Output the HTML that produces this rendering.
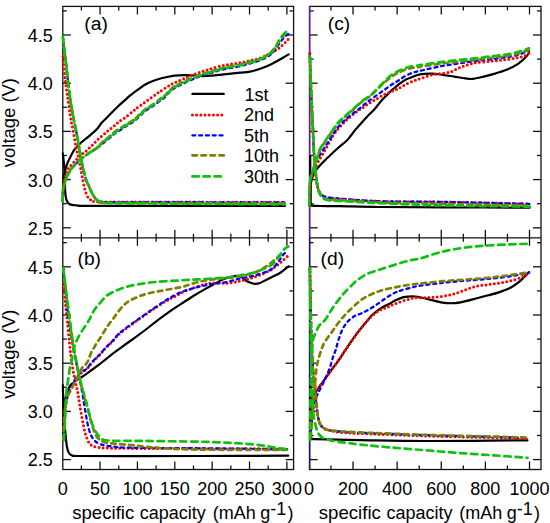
<!DOCTYPE html><html><head><meta charset="utf-8"><style>html,body{margin:0;padding:0;background:#fff;overflow:hidden;}svg{display:block;} text{font-family:"Liberation Sans",sans-serif;fill:#000;}</style></head><body>
<svg width="550" height="523" viewBox="0 0 550 523">
<rect width="550" height="523" fill="#fff"/>
<defs>
<clipPath id="cpa"><rect x="61.3" y="6.4" width="232.3" height="231.4"/></clipPath>
<clipPath id="cpb"><rect x="61.3" y="237.8" width="232.3" height="231.7"/></clipPath>
<clipPath id="cpc"><rect x="308.1" y="6.4" width="232.89999999999998" height="231.4"/></clipPath>
<clipPath id="cpd"><rect x="308.1" y="237.8" width="232.89999999999998" height="231.7"/></clipPath>
</defs>
<line x1="81.38" y1="6.40" x2="81.38" y2="10.40" stroke="#111" stroke-width="1.3"/>
<line x1="81.38" y1="233.80" x2="81.38" y2="241.80" stroke="#111" stroke-width="1.3"/>
<line x1="81.38" y1="465.50" x2="81.38" y2="469.50" stroke="#111" stroke-width="1.3"/>
<line x1="100.06" y1="6.40" x2="100.06" y2="14.40" stroke="#111" stroke-width="1.3"/>
<line x1="100.06" y1="229.80" x2="100.06" y2="245.80" stroke="#111" stroke-width="1.3"/>
<line x1="100.06" y1="461.50" x2="100.06" y2="469.50" stroke="#111" stroke-width="1.3"/>
<line x1="118.75" y1="6.40" x2="118.75" y2="10.40" stroke="#111" stroke-width="1.3"/>
<line x1="118.75" y1="233.80" x2="118.75" y2="241.80" stroke="#111" stroke-width="1.3"/>
<line x1="118.75" y1="465.50" x2="118.75" y2="469.50" stroke="#111" stroke-width="1.3"/>
<line x1="137.43" y1="6.40" x2="137.43" y2="14.40" stroke="#111" stroke-width="1.3"/>
<line x1="137.43" y1="229.80" x2="137.43" y2="245.80" stroke="#111" stroke-width="1.3"/>
<line x1="137.43" y1="461.50" x2="137.43" y2="469.50" stroke="#111" stroke-width="1.3"/>
<line x1="156.11" y1="6.40" x2="156.11" y2="10.40" stroke="#111" stroke-width="1.3"/>
<line x1="156.11" y1="233.80" x2="156.11" y2="241.80" stroke="#111" stroke-width="1.3"/>
<line x1="156.11" y1="465.50" x2="156.11" y2="469.50" stroke="#111" stroke-width="1.3"/>
<line x1="174.80" y1="6.40" x2="174.80" y2="14.40" stroke="#111" stroke-width="1.3"/>
<line x1="174.80" y1="229.80" x2="174.80" y2="245.80" stroke="#111" stroke-width="1.3"/>
<line x1="174.80" y1="461.50" x2="174.80" y2="469.50" stroke="#111" stroke-width="1.3"/>
<line x1="193.48" y1="6.40" x2="193.48" y2="10.40" stroke="#111" stroke-width="1.3"/>
<line x1="193.48" y1="233.80" x2="193.48" y2="241.80" stroke="#111" stroke-width="1.3"/>
<line x1="193.48" y1="465.50" x2="193.48" y2="469.50" stroke="#111" stroke-width="1.3"/>
<line x1="212.16" y1="6.40" x2="212.16" y2="14.40" stroke="#111" stroke-width="1.3"/>
<line x1="212.16" y1="229.80" x2="212.16" y2="245.80" stroke="#111" stroke-width="1.3"/>
<line x1="212.16" y1="461.50" x2="212.16" y2="469.50" stroke="#111" stroke-width="1.3"/>
<line x1="230.84" y1="6.40" x2="230.84" y2="10.40" stroke="#111" stroke-width="1.3"/>
<line x1="230.84" y1="233.80" x2="230.84" y2="241.80" stroke="#111" stroke-width="1.3"/>
<line x1="230.84" y1="465.50" x2="230.84" y2="469.50" stroke="#111" stroke-width="1.3"/>
<line x1="249.52" y1="6.40" x2="249.52" y2="14.40" stroke="#111" stroke-width="1.3"/>
<line x1="249.52" y1="229.80" x2="249.52" y2="245.80" stroke="#111" stroke-width="1.3"/>
<line x1="249.52" y1="461.50" x2="249.52" y2="469.50" stroke="#111" stroke-width="1.3"/>
<line x1="268.21" y1="6.40" x2="268.21" y2="10.40" stroke="#111" stroke-width="1.3"/>
<line x1="268.21" y1="233.80" x2="268.21" y2="241.80" stroke="#111" stroke-width="1.3"/>
<line x1="268.21" y1="465.50" x2="268.21" y2="469.50" stroke="#111" stroke-width="1.3"/>
<line x1="286.89" y1="6.40" x2="286.89" y2="14.40" stroke="#111" stroke-width="1.3"/>
<line x1="286.89" y1="229.80" x2="286.89" y2="245.80" stroke="#111" stroke-width="1.3"/>
<line x1="286.89" y1="461.50" x2="286.89" y2="469.50" stroke="#111" stroke-width="1.3"/>
<line x1="330.96" y1="6.40" x2="330.96" y2="10.40" stroke="#111" stroke-width="1.3"/>
<line x1="330.96" y1="233.80" x2="330.96" y2="241.80" stroke="#111" stroke-width="1.3"/>
<line x1="330.96" y1="465.50" x2="330.96" y2="469.50" stroke="#111" stroke-width="1.3"/>
<line x1="353.02" y1="6.40" x2="353.02" y2="14.40" stroke="#111" stroke-width="1.3"/>
<line x1="353.02" y1="229.80" x2="353.02" y2="245.80" stroke="#111" stroke-width="1.3"/>
<line x1="353.02" y1="461.50" x2="353.02" y2="469.50" stroke="#111" stroke-width="1.3"/>
<line x1="375.08" y1="6.40" x2="375.08" y2="10.40" stroke="#111" stroke-width="1.3"/>
<line x1="375.08" y1="233.80" x2="375.08" y2="241.80" stroke="#111" stroke-width="1.3"/>
<line x1="375.08" y1="465.50" x2="375.08" y2="469.50" stroke="#111" stroke-width="1.3"/>
<line x1="397.14" y1="6.40" x2="397.14" y2="14.40" stroke="#111" stroke-width="1.3"/>
<line x1="397.14" y1="229.80" x2="397.14" y2="245.80" stroke="#111" stroke-width="1.3"/>
<line x1="397.14" y1="461.50" x2="397.14" y2="469.50" stroke="#111" stroke-width="1.3"/>
<line x1="419.20" y1="6.40" x2="419.20" y2="10.40" stroke="#111" stroke-width="1.3"/>
<line x1="419.20" y1="233.80" x2="419.20" y2="241.80" stroke="#111" stroke-width="1.3"/>
<line x1="419.20" y1="465.50" x2="419.20" y2="469.50" stroke="#111" stroke-width="1.3"/>
<line x1="441.26" y1="6.40" x2="441.26" y2="14.40" stroke="#111" stroke-width="1.3"/>
<line x1="441.26" y1="229.80" x2="441.26" y2="245.80" stroke="#111" stroke-width="1.3"/>
<line x1="441.26" y1="461.50" x2="441.26" y2="469.50" stroke="#111" stroke-width="1.3"/>
<line x1="463.32" y1="6.40" x2="463.32" y2="10.40" stroke="#111" stroke-width="1.3"/>
<line x1="463.32" y1="233.80" x2="463.32" y2="241.80" stroke="#111" stroke-width="1.3"/>
<line x1="463.32" y1="465.50" x2="463.32" y2="469.50" stroke="#111" stroke-width="1.3"/>
<line x1="485.38" y1="6.40" x2="485.38" y2="14.40" stroke="#111" stroke-width="1.3"/>
<line x1="485.38" y1="229.80" x2="485.38" y2="245.80" stroke="#111" stroke-width="1.3"/>
<line x1="485.38" y1="461.50" x2="485.38" y2="469.50" stroke="#111" stroke-width="1.3"/>
<line x1="507.44" y1="6.40" x2="507.44" y2="10.40" stroke="#111" stroke-width="1.3"/>
<line x1="507.44" y1="233.80" x2="507.44" y2="241.80" stroke="#111" stroke-width="1.3"/>
<line x1="507.44" y1="465.50" x2="507.44" y2="469.50" stroke="#111" stroke-width="1.3"/>
<line x1="529.50" y1="6.40" x2="529.50" y2="14.40" stroke="#111" stroke-width="1.3"/>
<line x1="529.50" y1="229.80" x2="529.50" y2="245.80" stroke="#111" stroke-width="1.3"/>
<line x1="529.50" y1="461.50" x2="529.50" y2="469.50" stroke="#111" stroke-width="1.3"/>
<line x1="62.80" y1="227.80" x2="70.80" y2="227.80" stroke="#111" stroke-width="1.3"/>
<line x1="285.60" y1="227.80" x2="293.60" y2="227.80" stroke="#111" stroke-width="1.3"/>
<line x1="309.60" y1="227.80" x2="317.60" y2="227.80" stroke="#111" stroke-width="1.3"/>
<line x1="533.00" y1="227.80" x2="541.00" y2="227.80" stroke="#111" stroke-width="1.3"/>
<line x1="62.80" y1="203.70" x2="66.80" y2="203.70" stroke="#111" stroke-width="1.3"/>
<line x1="289.60" y1="203.70" x2="293.60" y2="203.70" stroke="#111" stroke-width="1.3"/>
<line x1="309.60" y1="203.70" x2="313.60" y2="203.70" stroke="#111" stroke-width="1.3"/>
<line x1="537.00" y1="203.70" x2="541.00" y2="203.70" stroke="#111" stroke-width="1.3"/>
<line x1="62.80" y1="179.60" x2="70.80" y2="179.60" stroke="#111" stroke-width="1.3"/>
<line x1="285.60" y1="179.60" x2="293.60" y2="179.60" stroke="#111" stroke-width="1.3"/>
<line x1="309.60" y1="179.60" x2="317.60" y2="179.60" stroke="#111" stroke-width="1.3"/>
<line x1="533.00" y1="179.60" x2="541.00" y2="179.60" stroke="#111" stroke-width="1.3"/>
<line x1="62.80" y1="155.50" x2="66.80" y2="155.50" stroke="#111" stroke-width="1.3"/>
<line x1="289.60" y1="155.50" x2="293.60" y2="155.50" stroke="#111" stroke-width="1.3"/>
<line x1="309.60" y1="155.50" x2="313.60" y2="155.50" stroke="#111" stroke-width="1.3"/>
<line x1="537.00" y1="155.50" x2="541.00" y2="155.50" stroke="#111" stroke-width="1.3"/>
<line x1="62.80" y1="131.40" x2="70.80" y2="131.40" stroke="#111" stroke-width="1.3"/>
<line x1="285.60" y1="131.40" x2="293.60" y2="131.40" stroke="#111" stroke-width="1.3"/>
<line x1="309.60" y1="131.40" x2="317.60" y2="131.40" stroke="#111" stroke-width="1.3"/>
<line x1="533.00" y1="131.40" x2="541.00" y2="131.40" stroke="#111" stroke-width="1.3"/>
<line x1="62.80" y1="107.30" x2="66.80" y2="107.30" stroke="#111" stroke-width="1.3"/>
<line x1="289.60" y1="107.30" x2="293.60" y2="107.30" stroke="#111" stroke-width="1.3"/>
<line x1="309.60" y1="107.30" x2="313.60" y2="107.30" stroke="#111" stroke-width="1.3"/>
<line x1="537.00" y1="107.30" x2="541.00" y2="107.30" stroke="#111" stroke-width="1.3"/>
<line x1="62.80" y1="83.20" x2="70.80" y2="83.20" stroke="#111" stroke-width="1.3"/>
<line x1="285.60" y1="83.20" x2="293.60" y2="83.20" stroke="#111" stroke-width="1.3"/>
<line x1="309.60" y1="83.20" x2="317.60" y2="83.20" stroke="#111" stroke-width="1.3"/>
<line x1="533.00" y1="83.20" x2="541.00" y2="83.20" stroke="#111" stroke-width="1.3"/>
<line x1="62.80" y1="59.10" x2="66.80" y2="59.10" stroke="#111" stroke-width="1.3"/>
<line x1="289.60" y1="59.10" x2="293.60" y2="59.10" stroke="#111" stroke-width="1.3"/>
<line x1="309.60" y1="59.10" x2="313.60" y2="59.10" stroke="#111" stroke-width="1.3"/>
<line x1="537.00" y1="59.10" x2="541.00" y2="59.10" stroke="#111" stroke-width="1.3"/>
<line x1="62.80" y1="35.00" x2="70.80" y2="35.00" stroke="#111" stroke-width="1.3"/>
<line x1="285.60" y1="35.00" x2="293.60" y2="35.00" stroke="#111" stroke-width="1.3"/>
<line x1="309.60" y1="35.00" x2="317.60" y2="35.00" stroke="#111" stroke-width="1.3"/>
<line x1="533.00" y1="35.00" x2="541.00" y2="35.00" stroke="#111" stroke-width="1.3"/>
<line x1="62.80" y1="10.90" x2="66.80" y2="10.90" stroke="#111" stroke-width="1.3"/>
<line x1="289.60" y1="10.90" x2="293.60" y2="10.90" stroke="#111" stroke-width="1.3"/>
<line x1="309.60" y1="10.90" x2="313.60" y2="10.90" stroke="#111" stroke-width="1.3"/>
<line x1="537.00" y1="10.90" x2="541.00" y2="10.90" stroke="#111" stroke-width="1.3"/>
<line x1="62.80" y1="459.60" x2="70.80" y2="459.60" stroke="#111" stroke-width="1.3"/>
<line x1="285.60" y1="459.60" x2="293.60" y2="459.60" stroke="#111" stroke-width="1.3"/>
<line x1="309.60" y1="459.60" x2="317.60" y2="459.60" stroke="#111" stroke-width="1.3"/>
<line x1="533.00" y1="459.60" x2="541.00" y2="459.60" stroke="#111" stroke-width="1.3"/>
<line x1="62.80" y1="435.50" x2="66.80" y2="435.50" stroke="#111" stroke-width="1.3"/>
<line x1="289.60" y1="435.50" x2="293.60" y2="435.50" stroke="#111" stroke-width="1.3"/>
<line x1="309.60" y1="435.50" x2="313.60" y2="435.50" stroke="#111" stroke-width="1.3"/>
<line x1="537.00" y1="435.50" x2="541.00" y2="435.50" stroke="#111" stroke-width="1.3"/>
<line x1="62.80" y1="411.40" x2="70.80" y2="411.40" stroke="#111" stroke-width="1.3"/>
<line x1="285.60" y1="411.40" x2="293.60" y2="411.40" stroke="#111" stroke-width="1.3"/>
<line x1="309.60" y1="411.40" x2="317.60" y2="411.40" stroke="#111" stroke-width="1.3"/>
<line x1="533.00" y1="411.40" x2="541.00" y2="411.40" stroke="#111" stroke-width="1.3"/>
<line x1="62.80" y1="387.30" x2="66.80" y2="387.30" stroke="#111" stroke-width="1.3"/>
<line x1="289.60" y1="387.30" x2="293.60" y2="387.30" stroke="#111" stroke-width="1.3"/>
<line x1="309.60" y1="387.30" x2="313.60" y2="387.30" stroke="#111" stroke-width="1.3"/>
<line x1="537.00" y1="387.30" x2="541.00" y2="387.30" stroke="#111" stroke-width="1.3"/>
<line x1="62.80" y1="363.20" x2="70.80" y2="363.20" stroke="#111" stroke-width="1.3"/>
<line x1="285.60" y1="363.20" x2="293.60" y2="363.20" stroke="#111" stroke-width="1.3"/>
<line x1="309.60" y1="363.20" x2="317.60" y2="363.20" stroke="#111" stroke-width="1.3"/>
<line x1="533.00" y1="363.20" x2="541.00" y2="363.20" stroke="#111" stroke-width="1.3"/>
<line x1="62.80" y1="339.10" x2="66.80" y2="339.10" stroke="#111" stroke-width="1.3"/>
<line x1="289.60" y1="339.10" x2="293.60" y2="339.10" stroke="#111" stroke-width="1.3"/>
<line x1="309.60" y1="339.10" x2="313.60" y2="339.10" stroke="#111" stroke-width="1.3"/>
<line x1="537.00" y1="339.10" x2="541.00" y2="339.10" stroke="#111" stroke-width="1.3"/>
<line x1="62.80" y1="315.00" x2="70.80" y2="315.00" stroke="#111" stroke-width="1.3"/>
<line x1="285.60" y1="315.00" x2="293.60" y2="315.00" stroke="#111" stroke-width="1.3"/>
<line x1="309.60" y1="315.00" x2="317.60" y2="315.00" stroke="#111" stroke-width="1.3"/>
<line x1="533.00" y1="315.00" x2="541.00" y2="315.00" stroke="#111" stroke-width="1.3"/>
<line x1="62.80" y1="290.90" x2="66.80" y2="290.90" stroke="#111" stroke-width="1.3"/>
<line x1="289.60" y1="290.90" x2="293.60" y2="290.90" stroke="#111" stroke-width="1.3"/>
<line x1="309.60" y1="290.90" x2="313.60" y2="290.90" stroke="#111" stroke-width="1.3"/>
<line x1="537.00" y1="290.90" x2="541.00" y2="290.90" stroke="#111" stroke-width="1.3"/>
<line x1="62.80" y1="266.80" x2="70.80" y2="266.80" stroke="#111" stroke-width="1.3"/>
<line x1="285.60" y1="266.80" x2="293.60" y2="266.80" stroke="#111" stroke-width="1.3"/>
<line x1="309.60" y1="266.80" x2="317.60" y2="266.80" stroke="#111" stroke-width="1.3"/>
<line x1="533.00" y1="266.80" x2="541.00" y2="266.80" stroke="#111" stroke-width="1.3"/>
<line x1="62.80" y1="242.70" x2="66.80" y2="242.70" stroke="#111" stroke-width="1.3"/>
<line x1="289.60" y1="242.70" x2="293.60" y2="242.70" stroke="#111" stroke-width="1.3"/>
<line x1="309.60" y1="242.70" x2="313.60" y2="242.70" stroke="#111" stroke-width="1.3"/>
<line x1="537.00" y1="242.70" x2="541.00" y2="242.70" stroke="#111" stroke-width="1.3"/>
<rect x="62.8" y="6.4" width="230.8" height="463.1" fill="none" stroke="#111" stroke-width="1.3"/>
<line x1="62.80" y1="237.80" x2="293.60" y2="237.80" stroke="#111" stroke-width="1.3"/>
<rect x="309.6" y="6.4" width="231.39999999999998" height="463.1" fill="none" stroke="#111" stroke-width="1.3"/>
<line x1="309.60" y1="237.80" x2="541.00" y2="237.80" stroke="#111" stroke-width="1.3"/>
<line x1="309.60" y1="6.40" x2="309.60" y2="237.80" stroke="#6a1b8a" stroke-width="1.5"/>
<line x1="309.60" y1="237.80" x2="309.60" y2="469.50" stroke="#1c1c6e" stroke-width="1.5"/>
<path d="M62.80,153.40 C63.00,155.17 63.68,160.23 64.00,164.00 C64.32,167.77 64.52,171.67 64.70,176.00 C64.88,180.33 64.88,186.28 65.10,190.00 C65.32,193.72 65.55,196.20 66.00,198.30 C66.45,200.40 67.03,201.55 67.80,202.60 C68.57,203.65 68.90,204.12 70.60,204.60 C72.30,205.08 73.10,205.28 78.00,205.50 C82.90,205.72 65.50,205.83 100.00,205.90 C134.50,205.97 254.17,205.90 285.00,205.90" fill="none" stroke="#000" stroke-width="2.2" stroke-linecap="round" stroke-linejoin="round" clip-path="url(#cpa)"/>
<path d="M63.00,196.00 C63.05,194.17 63.13,188.33 63.30,185.00 C63.47,181.67 63.58,178.83 64.00,176.00 C64.42,173.17 65.22,170.17 65.80,168.00 C66.38,165.83 66.87,164.57 67.50,163.00 C68.13,161.43 68.60,160.60 69.60,158.60 C70.60,156.60 72.22,153.03 73.50,151.00 C74.78,148.97 76.03,147.82 77.30,146.40 C78.57,144.98 79.83,143.65 81.10,142.50 C82.37,141.35 83.62,140.52 84.90,139.50 C86.18,138.48 87.52,137.48 88.80,136.40 C90.08,135.32 91.20,134.27 92.60,133.00 C94.00,131.73 95.72,130.47 97.20,128.80 C98.68,127.13 99.83,124.92 101.50,123.00 C103.17,121.08 105.73,118.78 107.20,117.30 C108.67,115.82 108.52,115.90 110.30,114.10 C112.08,112.30 115.35,108.92 117.90,106.50 C120.45,104.08 123.58,101.42 125.60,99.60 C127.62,97.78 128.00,97.22 130.00,95.60 C132.00,93.98 135.05,91.75 137.60,89.90 C140.15,88.05 142.75,86.00 145.30,84.50 C147.85,83.00 150.35,81.90 152.90,80.90 C155.45,79.90 158.58,79.07 160.60,78.50 C162.62,77.93 162.67,77.98 165.00,77.50 C167.33,77.02 171.42,76.00 174.60,75.60 C177.78,75.20 180.92,75.12 184.10,75.10 C187.28,75.08 190.52,75.33 193.70,75.50 C196.88,75.67 200.15,76.08 203.20,76.10 C206.25,76.12 208.93,75.85 212.00,75.60 C215.07,75.35 218.42,74.93 221.60,74.60 C224.78,74.27 227.92,73.93 231.10,73.60 C234.28,73.27 237.55,72.93 240.70,72.60 C243.85,72.27 246.85,72.20 250.00,71.60 C253.15,71.00 256.42,70.07 259.60,69.00 C262.78,67.93 266.23,66.48 269.10,65.20 C271.97,63.92 274.57,62.50 276.80,61.30 C279.03,60.10 280.53,59.15 282.50,58.00 C284.47,56.85 287.58,55.00 288.60,54.40" fill="none" stroke="#000" stroke-width="2.2" stroke-linecap="round" stroke-linejoin="round" clip-path="url(#cpa)"/>
<path d="M62.80,56.50 C63.17,60.08 64.13,70.75 65.00,78.00 C65.87,85.25 67.00,93.00 68.00,100.00 C69.00,107.00 70.18,115.07 71.00,120.00 C71.82,124.93 72.27,126.25 72.90,129.60 C73.53,132.95 74.23,136.92 74.80,140.10 C75.37,143.28 75.73,146.00 76.30,148.70 C76.87,151.40 77.58,153.58 78.20,156.30 C78.82,159.02 79.47,162.30 80.00,165.00 C80.53,167.70 80.92,170.00 81.40,172.50 C81.88,175.00 82.42,177.55 82.90,180.00 C83.38,182.45 83.75,184.95 84.30,187.20 C84.85,189.45 85.58,191.82 86.20,193.50 C86.82,195.18 87.38,196.32 88.00,197.30 C88.62,198.28 88.95,198.78 89.90,199.40 C90.85,200.02 92.15,200.60 93.70,201.00 C95.25,201.40 89.82,201.63 99.20,201.80 C108.58,201.97 119.03,201.92 150.00,202.00 C180.97,202.08 262.50,202.25 285.00,202.30" fill="none" stroke="#f00" stroke-width="3.0" stroke-linecap="round" stroke-linejoin="round" stroke-dasharray="0 4.2" clip-path="url(#cpa)"/>
<path d="M62.80,193.00 C62.95,191.33 63.23,185.95 63.70,183.00 C64.17,180.05 64.97,177.47 65.60,175.30 C66.23,173.13 66.83,171.38 67.50,170.00 C68.17,168.62 68.60,168.27 69.60,167.00 C70.60,165.73 72.22,163.80 73.50,162.40 C74.78,161.00 75.77,160.07 77.30,158.60 C78.83,157.13 81.17,154.93 82.70,153.60 C84.23,152.27 85.23,151.68 86.50,150.60 C87.77,149.52 89.18,148.17 90.30,147.10 C91.42,146.03 92.20,145.20 93.20,144.20 C94.20,143.20 95.25,142.13 96.30,141.10 C97.35,140.07 98.40,139.00 99.50,138.00 C100.60,137.00 101.75,136.07 102.90,135.10 C104.05,134.13 105.30,133.12 106.40,132.20 C107.50,131.28 108.40,130.50 109.50,129.60 C110.60,128.70 111.90,127.70 113.00,126.80 C114.10,125.90 115.05,125.12 116.10,124.20 C117.15,123.28 117.72,122.47 119.30,121.30 C120.88,120.13 123.28,118.90 125.60,117.20 C127.92,115.50 131.45,112.53 133.20,111.10 C134.95,109.67 134.47,109.83 136.10,108.60 C137.73,107.37 140.70,105.35 143.00,103.70 C145.30,102.05 147.60,100.37 149.90,98.70 C152.20,97.03 155.00,94.98 156.80,93.70 C158.60,92.42 159.02,92.10 160.70,91.00 C162.38,89.90 165.23,88.15 166.90,87.10 C168.57,86.05 169.42,85.42 170.70,84.70 C171.98,83.98 173.32,83.40 174.60,82.80 C175.88,82.20 177.13,81.67 178.40,81.10 C179.67,80.53 181.00,79.92 182.20,79.40 C183.40,78.88 184.48,78.48 185.60,78.00 C186.72,77.52 187.72,76.98 188.90,76.50 C190.08,76.02 191.43,75.60 192.70,75.10 C193.97,74.60 195.22,73.98 196.50,73.50 C197.78,73.02 199.12,72.65 200.40,72.20 C201.68,71.75 202.93,71.22 204.20,70.80 C205.47,70.38 206.70,70.12 208.00,69.70 C209.30,69.28 209.73,68.95 212.00,68.30 C214.27,67.65 218.42,66.50 221.60,65.80 C224.78,65.10 227.92,64.62 231.10,64.10 C234.28,63.58 237.55,63.28 240.70,62.70 C243.85,62.12 246.85,61.35 250.00,60.60 C253.15,59.85 256.42,59.27 259.60,58.20 C262.78,57.13 266.40,55.52 269.10,54.20 C271.80,52.88 274.05,51.35 275.80,50.30 C277.55,49.25 278.40,48.85 279.60,47.90 C280.80,46.95 281.80,45.78 283.00,44.60 C284.20,43.42 285.93,41.65 286.80,40.80 C287.67,39.95 287.97,39.72 288.20,39.50" fill="none" stroke="#f00" stroke-width="3.0" stroke-linecap="round" stroke-linejoin="round" stroke-dasharray="0 4.2" clip-path="url(#cpa)"/>
<path d="M62.80,36.80 C63.42,42.00 65.25,57.47 66.50,68.00 C67.75,78.53 69.07,91.33 70.30,100.00 C71.53,108.67 72.67,113.48 73.90,120.00 C75.13,126.52 76.63,133.27 77.70,139.10 C78.77,144.93 79.50,150.52 80.30,155.00 C81.10,159.48 81.80,162.83 82.50,166.00 C83.20,169.17 83.87,171.58 84.50,174.00 C85.13,176.42 85.55,178.42 86.30,180.50 C87.05,182.58 87.95,184.22 89.00,186.50 C90.05,188.78 91.45,192.10 92.60,194.20 C93.75,196.30 94.80,197.92 95.90,199.10 C97.00,200.28 97.75,200.78 99.20,201.30 C100.65,201.82 96.13,202.05 104.60,202.20 C113.07,202.35 119.93,202.17 150.00,202.20 C180.07,202.23 262.50,202.37 285.00,202.40" fill="none" stroke="#00f" stroke-width="2.3" stroke-linecap="round" stroke-linejoin="round" stroke-dasharray="2.9 3.9" clip-path="url(#cpa)"/>
<path d="M62.30,201.00 C62.38,199.42 62.57,193.87 62.80,191.50 C63.03,189.13 63.30,188.55 63.70,186.80 C64.10,185.05 64.63,182.75 65.20,181.00 C65.77,179.25 66.38,177.88 67.10,176.30 C67.82,174.72 68.70,172.88 69.50,171.50 C70.30,170.12 70.85,169.27 71.90,168.00 C72.95,166.73 74.52,165.22 75.80,163.90 C77.08,162.58 78.33,161.23 79.60,160.10 C80.87,158.97 82.13,158.05 83.40,157.10 C84.67,156.15 85.92,155.30 87.20,154.40 C88.48,153.50 89.82,152.53 91.10,151.70 C92.38,150.87 93.77,150.17 94.90,149.40 C96.03,148.63 96.80,147.90 97.90,147.10 C99.00,146.30 100.13,145.68 101.50,144.60 C102.87,143.52 104.57,141.85 106.10,140.60 C107.63,139.35 109.18,138.35 110.70,137.10 C112.22,135.85 113.65,134.25 115.20,133.10 C116.75,131.95 118.45,131.20 120.00,130.20 C121.55,129.20 122.93,128.10 124.50,127.10 C126.07,126.10 127.65,125.32 129.40,124.20 C131.15,123.08 133.23,121.80 135.00,120.40 C136.77,119.00 138.28,117.38 140.00,115.80 C141.72,114.22 143.15,112.52 145.30,110.90 C147.45,109.28 150.35,107.87 152.90,106.10 C155.45,104.33 158.58,101.80 160.60,100.30 C162.62,98.80 163.32,98.68 165.00,97.10 C166.68,95.52 168.78,92.48 170.70,90.80 C172.62,89.12 174.58,88.12 176.50,87.00 C178.42,85.88 180.30,85.05 182.20,84.10 C184.10,83.15 185.98,82.17 187.90,81.30 C189.82,80.43 191.78,79.70 193.70,78.90 C195.62,78.10 197.48,77.22 199.40,76.50 C201.32,75.78 203.28,75.18 205.20,74.60 C207.12,74.02 209.27,73.48 210.90,73.00 C212.53,72.52 213.22,72.23 215.00,71.70 C216.78,71.17 218.92,70.43 221.60,69.80 C224.28,69.17 227.92,68.53 231.10,67.90 C234.28,67.27 237.55,66.73 240.70,66.00 C243.85,65.27 246.85,64.42 250.00,63.50 C253.15,62.58 256.73,61.62 259.60,60.50 C262.47,59.38 265.13,58.02 267.20,56.80 C269.27,55.58 270.53,54.58 272.00,53.20 C273.47,51.82 274.67,50.28 276.00,48.50 C277.33,46.72 278.65,44.33 280.00,42.50 C281.35,40.67 282.72,38.93 284.10,37.50 C285.48,36.07 287.60,34.50 288.30,33.90" fill="none" stroke="#00f" stroke-width="2.3" stroke-linecap="round" stroke-linejoin="round" stroke-dasharray="2.9 3.9" clip-path="url(#cpa)"/>
<path d="M62.80,36.80 C63.42,42.00 65.25,57.47 66.50,68.00 C67.75,78.53 69.07,91.33 70.30,100.00 C71.53,108.67 72.67,113.48 73.90,120.00 C75.13,126.52 76.63,133.27 77.70,139.10 C78.77,144.93 79.50,150.52 80.30,155.00 C81.10,159.48 81.80,162.83 82.50,166.00 C83.20,169.17 83.87,171.58 84.50,174.00 C85.13,176.42 85.55,178.42 86.30,180.50 C87.05,182.58 87.95,184.22 89.00,186.50 C90.05,188.78 91.45,192.10 92.60,194.20 C93.75,196.30 94.80,197.92 95.90,199.10 C97.00,200.28 97.75,200.70 99.20,201.30 C100.65,201.90 96.13,202.42 104.60,202.70 C113.07,202.98 119.93,202.88 150.00,203.00 C180.07,203.12 262.50,203.33 285.00,203.40" fill="none" stroke="#808000" stroke-width="2.7" stroke-linecap="round" stroke-linejoin="round" stroke-dasharray="4.6 4.4" clip-path="url(#cpa)"/>
<path d="M62.30,201.00 C62.38,199.42 62.57,193.87 62.80,191.50 C63.03,189.13 63.30,188.55 63.70,186.80 C64.10,185.05 64.63,182.75 65.20,181.00 C65.77,179.25 66.38,177.88 67.10,176.30 C67.82,174.72 68.70,172.88 69.50,171.50 C70.30,170.12 70.85,169.27 71.90,168.00 C72.95,166.73 74.52,165.22 75.80,163.90 C77.08,162.58 78.33,161.23 79.60,160.10 C80.87,158.97 82.13,158.05 83.40,157.10 C84.67,156.15 85.92,155.30 87.20,154.40 C88.48,153.50 89.82,152.53 91.10,151.70 C92.38,150.87 93.77,150.17 94.90,149.40 C96.03,148.63 96.80,148.17 97.90,147.10 C99.00,146.03 100.13,144.35 101.50,143.00 C102.87,141.65 104.57,140.25 106.10,139.00 C107.63,137.75 109.18,136.75 110.70,135.50 C112.22,134.25 113.65,132.65 115.20,131.50 C116.75,130.35 118.45,129.60 120.00,128.60 C121.55,127.60 122.93,126.50 124.50,125.50 C126.07,124.50 127.65,123.72 129.40,122.60 C131.15,121.48 133.23,120.20 135.00,118.80 C136.77,117.40 138.28,115.78 140.00,114.20 C141.72,112.62 143.15,110.92 145.30,109.30 C147.45,107.68 150.35,106.27 152.90,104.50 C155.45,102.73 158.58,100.20 160.60,98.70 C162.62,97.20 163.32,97.08 165.00,95.50 C166.68,93.92 168.78,90.88 170.70,89.20 C172.62,87.52 174.58,86.52 176.50,85.40 C178.42,84.28 180.30,83.45 182.20,82.50 C184.10,81.55 185.98,80.57 187.90,79.70 C189.82,78.83 191.78,78.10 193.70,77.30 C195.62,76.50 197.48,75.62 199.40,74.90 C201.32,74.18 203.28,73.58 205.20,73.00 C207.12,72.42 209.27,71.88 210.90,71.40 C212.53,70.92 213.22,70.63 215.00,70.10 C216.78,69.57 218.92,68.83 221.60,68.20 C224.28,67.57 227.92,66.93 231.10,66.30 C234.28,65.67 237.55,65.13 240.70,64.40 C243.85,63.67 246.85,62.82 250.00,61.90 C253.15,60.98 256.73,60.05 259.60,58.90 C262.47,57.75 265.13,56.28 267.20,55.00 C269.27,53.72 270.53,52.65 272.00,51.20 C273.47,49.75 274.67,48.17 276.00,46.30 C277.33,44.43 278.65,41.88 280.00,40.00 C281.35,38.12 282.72,36.42 284.10,35.00 C285.48,33.58 287.60,32.08 288.30,31.50" fill="none" stroke="#808000" stroke-width="2.7" stroke-linecap="round" stroke-linejoin="round" stroke-dasharray="4.6 4.4" clip-path="url(#cpa)"/>
<path d="M62.80,36.80 C63.42,42.00 65.25,57.47 66.50,68.00 C67.75,78.53 69.07,91.33 70.30,100.00 C71.53,108.67 72.67,113.48 73.90,120.00 C75.13,126.52 76.63,133.27 77.70,139.10 C78.77,144.93 79.50,150.52 80.30,155.00 C81.10,159.48 81.80,162.83 82.50,166.00 C83.20,169.17 83.87,171.58 84.50,174.00 C85.13,176.42 85.55,178.42 86.30,180.50 C87.05,182.58 87.95,184.22 89.00,186.50 C90.05,188.78 91.45,192.10 92.60,194.20 C93.75,196.30 94.80,197.92 95.90,199.10 C97.00,200.28 97.75,200.65 99.20,201.30 C100.65,201.95 96.13,202.63 104.60,203.00 C113.07,203.37 119.93,203.27 150.00,203.50 C180.07,203.73 262.50,204.25 285.00,204.40" fill="none" stroke="#10c010" stroke-width="2.7" stroke-linecap="round" stroke-linejoin="round" stroke-dasharray="6.3 4.8" clip-path="url(#cpa)"/>
<path d="M62.30,201.00 C62.38,199.42 62.57,193.87 62.80,191.50 C63.03,189.13 63.30,188.55 63.70,186.80 C64.10,185.05 64.63,182.75 65.20,181.00 C65.77,179.25 66.38,177.88 67.10,176.30 C67.82,174.72 68.70,172.88 69.50,171.50 C70.30,170.12 70.85,169.27 71.90,168.00 C72.95,166.73 74.52,165.22 75.80,163.90 C77.08,162.58 78.33,161.23 79.60,160.10 C80.87,158.97 82.13,158.05 83.40,157.10 C84.67,156.15 85.92,155.30 87.20,154.40 C88.48,153.50 89.82,152.53 91.10,151.70 C92.38,150.87 93.77,150.17 94.90,149.40 C96.03,148.63 96.80,148.05 97.90,147.10 C99.00,146.15 100.13,144.93 101.50,143.70 C102.87,142.47 104.57,140.95 106.10,139.70 C107.63,138.45 109.18,137.45 110.70,136.20 C112.22,134.95 113.65,133.35 115.20,132.20 C116.75,131.05 118.45,130.30 120.00,129.30 C121.55,128.30 122.93,127.20 124.50,126.20 C126.07,125.20 127.65,124.42 129.40,123.30 C131.15,122.18 133.23,120.90 135.00,119.50 C136.77,118.10 138.28,116.48 140.00,114.90 C141.72,113.32 143.15,111.62 145.30,110.00 C147.45,108.38 150.35,106.97 152.90,105.20 C155.45,103.43 158.58,100.90 160.60,99.40 C162.62,97.90 163.32,97.78 165.00,96.20 C166.68,94.62 168.78,91.58 170.70,89.90 C172.62,88.22 174.58,87.22 176.50,86.10 C178.42,84.98 180.30,84.15 182.20,83.20 C184.10,82.25 185.98,81.27 187.90,80.40 C189.82,79.53 191.78,78.80 193.70,78.00 C195.62,77.20 197.48,76.32 199.40,75.60 C201.32,74.88 203.28,74.28 205.20,73.70 C207.12,73.12 209.27,72.58 210.90,72.10 C212.53,71.62 213.22,71.33 215.00,70.80 C216.78,70.27 218.92,69.53 221.60,68.90 C224.28,68.27 227.92,67.63 231.10,67.00 C234.28,66.37 237.55,65.83 240.70,65.10 C243.85,64.37 246.85,63.52 250.00,62.60 C253.15,61.68 256.73,60.77 259.60,59.60 C262.47,58.43 265.13,56.90 267.20,55.60 C269.27,54.30 270.57,53.23 272.00,51.80 C273.43,50.37 274.68,48.75 275.80,47.00 C276.92,45.25 277.58,43.22 278.70,41.30 C279.82,39.38 281.23,37.10 282.50,35.50 C283.77,33.90 285.32,32.65 286.30,31.70 C287.28,30.75 288.05,30.12 288.40,29.80" fill="none" stroke="#10c010" stroke-width="2.7" stroke-linecap="round" stroke-linejoin="round" stroke-dasharray="6.3 4.8" clip-path="url(#cpa)"/>
<path d="M62.80,385.00 C62.87,387.50 62.97,394.17 63.20,400.00 C63.43,405.83 63.85,414.67 64.20,420.00 C64.55,425.33 64.85,427.58 65.30,432.00 C65.75,436.42 66.32,443.05 66.90,446.50 C67.48,449.95 67.98,451.25 68.80,452.70 C69.62,454.15 70.02,454.65 71.80,455.20 C73.58,455.75 68.97,455.83 79.50,456.00 C90.03,456.17 114.92,456.20 135.00,456.20 C155.08,456.20 174.47,456.08 200.00,456.00 C225.53,455.92 273.50,455.75 288.20,455.70" fill="none" stroke="#000" stroke-width="2.2" stroke-linecap="round" stroke-linejoin="round" clip-path="url(#cpb)"/>
<path d="M63.20,440.00 C63.27,436.67 63.38,425.83 63.60,420.00 C63.82,414.17 64.10,409.17 64.50,405.00 C64.90,400.83 65.48,397.40 66.00,395.00 C66.52,392.60 66.95,392.10 67.60,390.60 C68.25,389.10 69.00,387.27 69.90,386.00 C70.80,384.73 71.85,384.02 73.00,383.00 C74.15,381.98 75.40,380.87 76.80,379.90 C78.20,378.93 79.73,378.25 81.40,377.20 C83.07,376.15 85.08,374.80 86.80,373.60 C88.52,372.40 89.77,371.42 91.70,370.00 C93.63,368.58 96.17,366.80 98.40,365.10 C100.63,363.40 102.87,361.58 105.10,359.80 C107.33,358.02 109.95,355.83 111.80,354.40 C113.65,352.97 113.95,352.85 116.20,351.20 C118.45,349.55 122.17,346.77 125.30,344.50 C128.43,342.23 131.35,340.27 135.00,337.60 C138.65,334.93 143.87,331.05 147.20,328.50 C150.53,325.95 152.03,324.57 155.00,322.30 C157.97,320.03 161.73,317.25 165.00,314.90 C168.27,312.55 171.42,310.35 174.60,308.20 C177.78,306.05 180.92,304.07 184.10,302.00 C187.28,299.93 190.52,297.78 193.70,295.80 C196.88,293.82 200.02,291.93 203.20,290.10 C206.38,288.27 209.55,286.57 212.80,284.80 C216.05,283.03 219.60,280.83 222.70,279.50 C225.80,278.17 229.03,277.40 231.40,276.80 C233.77,276.20 235.25,275.90 236.90,275.90 C238.55,275.90 239.95,276.12 241.30,276.80 C242.65,277.48 243.55,279.05 245.00,280.00 C246.45,280.95 248.33,281.87 250.00,282.50 C251.67,283.13 253.33,283.72 255.00,283.80 C256.67,283.88 258.33,283.55 260.00,283.00 C261.67,282.45 263.33,281.33 265.00,280.50 C266.67,279.67 268.33,278.83 270.00,278.00 C271.67,277.17 273.33,276.33 275.00,275.50 C276.67,274.67 278.50,273.92 280.00,273.00 C281.50,272.08 282.83,270.92 284.00,270.00 C285.17,269.08 286.17,268.12 287.00,267.50 C287.83,266.88 288.67,266.50 289.00,266.30" fill="none" stroke="#000" stroke-width="2.2" stroke-linecap="round" stroke-linejoin="round" clip-path="url(#cpb)"/>
<path d="M63.30,284.50 C63.62,287.42 64.55,296.08 65.20,302.00 C65.85,307.92 66.48,313.17 67.20,320.00 C67.92,326.83 68.73,335.87 69.50,343.00 C70.27,350.13 70.90,356.70 71.80,362.80 C72.70,368.90 73.92,374.73 74.90,379.60 C75.88,384.47 76.88,387.72 77.70,392.00 C78.52,396.28 79.00,400.53 79.80,405.30 C80.60,410.07 81.53,415.77 82.50,420.60 C83.47,425.43 84.32,430.35 85.60,434.30 C86.88,438.25 88.17,442.13 90.20,444.30 C92.23,446.47 94.75,446.67 97.80,447.30 C100.85,447.93 102.30,447.92 108.50,448.10 C114.70,448.28 119.75,448.32 135.00,448.40 C150.25,448.48 174.62,448.50 200.00,448.60 C225.38,448.70 272.75,448.93 287.30,449.00" fill="none" stroke="#f00" stroke-width="3.0" stroke-linecap="round" stroke-linejoin="round" stroke-dasharray="0 4.2" clip-path="url(#cpb)"/>
<path d="M63.30,440.00 C63.50,436.33 64.00,424.33 64.50,418.00 C65.00,411.67 65.65,406.08 66.30,402.00 C66.95,397.92 67.42,396.17 68.40,393.50 C69.38,390.83 70.67,388.83 72.20,386.00 C73.73,383.17 75.93,378.78 77.60,376.50 C79.27,374.22 80.63,373.58 82.20,372.30 C83.77,371.02 85.42,370.38 87.00,368.80 C88.58,367.22 90.13,364.58 91.70,362.80 C93.27,361.02 94.95,359.55 96.40,358.10 C97.85,356.65 99.07,355.55 100.40,354.10 C101.73,352.65 103.07,350.87 104.40,349.40 C105.73,347.93 106.95,346.73 108.40,345.30 C109.85,343.87 111.48,342.55 113.10,340.80 C114.72,339.05 115.95,336.83 118.10,334.80 C120.25,332.77 123.07,330.82 126.00,328.60 C128.93,326.38 131.40,324.57 135.70,321.50 C140.00,318.43 146.82,313.57 151.80,310.20 C156.78,306.83 161.80,303.58 165.60,301.30 C169.40,299.02 171.52,298.12 174.60,296.50 C177.68,294.88 180.60,293.15 184.10,291.60 C187.60,290.05 192.08,288.42 195.60,287.20 C199.12,285.98 202.33,285.00 205.20,284.30 C208.07,283.60 209.33,283.18 212.80,283.00 C216.27,282.82 222.53,283.32 226.00,283.20 C229.47,283.08 231.27,282.67 233.60,282.30 C235.93,281.93 237.27,281.63 240.00,281.00 C242.73,280.37 246.67,279.50 250.00,278.50 C253.33,277.50 256.67,276.33 260.00,275.00 C263.33,273.67 267.50,271.83 270.00,270.50 C272.50,269.17 273.33,268.25 275.00,267.00 C276.67,265.75 278.50,264.25 280.00,263.00 C281.50,261.75 282.67,260.67 284.00,259.50 C285.33,258.33 287.33,256.58 288.00,256.00" fill="none" stroke="#f00" stroke-width="3.0" stroke-linecap="round" stroke-linejoin="round" stroke-dasharray="0 4.2" clip-path="url(#cpb)"/>
<path d="M63.30,268.00 C63.72,272.33 64.88,285.33 65.80,294.00 C66.72,302.67 67.55,311.08 68.80,320.00 C70.05,328.92 71.78,339.08 73.30,347.50 C74.82,355.92 76.48,363.42 77.90,370.50 C79.32,377.58 80.65,383.70 81.80,390.00 C82.95,396.30 83.67,401.93 84.80,408.30 C85.93,414.67 87.20,423.10 88.60,428.20 C90.00,433.30 91.15,436.22 93.20,438.90 C95.25,441.58 97.07,442.97 100.90,444.30 C104.73,445.63 110.52,446.32 116.20,446.90 C121.88,447.48 121.03,447.57 135.00,447.80 C148.97,448.03 174.62,448.07 200.00,448.30 C225.38,448.53 272.75,449.05 287.30,449.20" fill="none" stroke="#00f" stroke-width="2.3" stroke-linecap="round" stroke-linejoin="round" stroke-dasharray="2.9 3.9" clip-path="url(#cpb)"/>
<path d="M63.30,440.00 C63.50,436.33 64.00,424.33 64.50,418.00 C65.00,411.67 65.65,406.18 66.30,402.00 C66.95,397.82 67.42,395.70 68.40,392.90 C69.38,390.10 70.67,388.13 72.20,385.20 C73.73,382.27 75.93,377.58 77.60,375.30 C79.27,373.02 80.63,372.63 82.20,371.50 C83.77,370.37 85.42,370.00 87.00,368.50 C88.58,367.00 90.13,364.28 91.70,362.50 C93.27,360.72 94.95,359.25 96.40,357.80 C97.85,356.35 99.07,355.25 100.40,353.80 C101.73,352.35 103.07,350.57 104.40,349.10 C105.73,347.63 106.95,346.45 108.40,345.00 C109.85,343.55 111.48,342.15 113.10,340.40 C114.72,338.65 115.95,336.57 118.10,334.50 C120.25,332.43 123.07,330.23 126.00,328.00 C128.93,325.77 131.40,324.15 135.70,321.10 C140.00,318.05 146.82,313.13 151.80,309.70 C156.78,306.27 161.80,302.90 165.60,300.50 C169.40,298.10 171.52,296.88 174.60,295.30 C177.68,293.72 180.92,292.18 184.10,291.00 C187.28,289.82 190.52,289.07 193.70,288.20 C196.88,287.33 200.02,286.52 203.20,285.80 C206.38,285.08 209.55,284.40 212.80,283.90 C216.05,283.40 219.23,283.40 222.70,282.80 C226.17,282.20 230.72,281.02 233.60,280.30 C236.48,279.58 237.27,279.13 240.00,278.50 C242.73,277.87 246.67,277.25 250.00,276.50 C253.33,275.75 257.00,274.92 260.00,274.00 C263.00,273.08 265.67,272.17 268.00,271.00 C270.33,269.83 272.17,268.67 274.00,267.00 C275.83,265.33 277.50,263.00 279.00,261.00 C280.50,259.00 281.62,256.67 283.00,255.00 C284.38,253.33 286.58,251.67 287.30,251.00" fill="none" stroke="#00f" stroke-width="2.3" stroke-linecap="round" stroke-linejoin="round" stroke-dasharray="2.9 3.9" clip-path="url(#cpb)"/>
<path d="M63.30,268.00 C63.80,272.33 65.27,285.33 66.30,294.00 C67.33,302.67 68.33,311.33 69.50,320.00 C70.67,328.67 71.80,337.17 73.30,346.00 C74.80,354.83 76.97,365.67 78.50,373.00 C80.03,380.33 81.07,384.62 82.50,390.00 C83.93,395.38 85.57,399.70 87.10,405.30 C88.63,410.90 90.17,418.50 91.70,423.60 C93.23,428.70 94.27,432.83 96.30,435.90 C98.33,438.97 100.58,440.68 103.90,442.00 C107.22,443.32 111.02,443.22 116.20,443.80 C121.38,444.38 127.70,444.80 135.00,445.50 C142.30,446.20 149.17,447.32 160.00,448.00 C170.83,448.68 178.83,449.28 200.00,449.60 C221.17,449.92 272.50,449.85 287.00,449.90" fill="none" stroke="#808000" stroke-width="2.7" stroke-linecap="round" stroke-linejoin="round" stroke-dasharray="4.6 4.4" clip-path="url(#cpb)"/>
<path d="M63.30,440.00 C63.45,436.67 63.83,425.83 64.20,420.00 C64.57,414.17 64.93,409.00 65.50,405.00 C66.07,401.00 66.73,398.40 67.60,396.00 C68.47,393.60 69.42,393.03 70.70,390.60 C71.98,388.17 73.77,384.47 75.30,381.40 C76.83,378.33 78.62,374.68 79.90,372.20 C81.18,369.72 82.03,367.78 83.00,366.50 C83.97,365.22 84.82,365.50 85.70,364.50 C86.58,363.50 87.42,362.40 88.30,360.50 C89.18,358.60 89.98,355.33 91.00,353.10 C92.02,350.87 93.38,348.88 94.40,347.10 C95.42,345.32 96.10,343.97 97.10,342.40 C98.10,340.83 98.92,340.02 100.40,337.70 C101.88,335.38 104.48,330.87 106.00,328.50 C107.52,326.13 108.25,325.20 109.50,323.50 C110.75,321.80 111.88,320.48 113.50,318.30 C115.12,316.12 117.30,312.75 119.20,310.40 C121.10,308.05 123.10,305.83 124.90,304.20 C126.70,302.57 127.82,301.83 130.00,300.60 C132.18,299.37 135.13,297.97 138.00,296.80 C140.87,295.63 143.37,294.60 147.20,293.60 C151.03,292.60 156.37,291.68 161.00,290.80 C165.63,289.92 171.08,289.05 175.00,288.30 C178.92,287.55 182.00,286.95 184.50,286.30 C187.00,285.65 187.27,285.22 190.00,284.40 C192.73,283.58 197.27,282.20 200.90,281.40 C204.53,280.60 208.17,280.10 211.80,279.60 C215.43,279.10 219.07,278.77 222.70,278.40 C226.33,278.03 229.97,277.93 233.60,277.40 C237.23,276.87 240.93,276.02 244.50,275.20 C248.07,274.38 251.92,273.62 255.00,272.50 C258.08,271.38 260.17,270.25 263.00,268.50 C265.83,266.75 269.17,264.25 272.00,262.00 C274.83,259.75 278.25,256.67 280.00,255.00 C281.75,253.33 282.08,252.50 282.50,252.00" fill="none" stroke="#808000" stroke-width="2.7" stroke-linecap="round" stroke-linejoin="round" stroke-dasharray="4.6 4.4" clip-path="url(#cpb)"/>
<path d="M63.30,268.00 C63.83,272.33 65.42,285.33 66.50,294.00 C67.58,302.67 68.63,311.33 69.80,320.00 C70.97,328.67 72.02,337.08 73.50,346.00 C74.98,354.92 77.17,366.17 78.70,373.50 C80.23,380.83 81.32,384.58 82.70,390.00 C84.08,395.42 85.55,400.70 87.00,406.00 C88.45,411.30 90.00,417.62 91.40,421.80 C92.80,425.98 93.83,428.43 95.40,431.10 C96.97,433.77 98.78,436.23 100.80,437.80 C102.82,439.37 101.80,440.00 107.50,440.50 C113.20,441.00 119.58,440.60 135.00,440.80 C150.42,441.00 186.13,441.45 200.00,441.70 C213.87,441.95 212.13,442.05 218.20,442.30 C224.27,442.55 230.35,442.83 236.40,443.20 C242.45,443.57 249.05,443.95 254.50,444.50 C259.95,445.05 265.15,445.87 269.10,446.50 C273.05,447.13 275.17,447.85 278.20,448.30 C281.23,448.75 285.78,449.05 287.30,449.20" fill="none" stroke="#10c010" stroke-width="2.7" stroke-linecap="round" stroke-linejoin="round" stroke-dasharray="6.3 4.8" clip-path="url(#cpb)"/>
<path d="M64.00,440.00 C64.17,437.00 64.70,428.33 65.00,422.00 C65.30,415.67 65.55,407.23 65.80,402.00 C66.05,396.77 66.20,393.77 66.50,390.60 C66.80,387.43 67.22,385.55 67.60,383.00 C67.98,380.45 68.42,377.87 68.80,375.30 C69.18,372.73 69.45,369.90 69.90,367.60 C70.35,365.30 70.75,365.02 71.50,361.50 C72.25,357.98 73.12,350.83 74.40,346.50 C75.68,342.17 77.43,338.82 79.20,335.50 C80.97,332.18 83.40,329.10 85.00,326.60 C86.60,324.10 87.88,322.08 88.80,320.50 C89.72,318.92 89.42,319.10 90.50,317.10 C91.58,315.10 93.55,311.05 95.30,308.50 C97.05,305.95 99.08,303.95 101.00,301.80 C102.92,299.65 104.72,297.28 106.80,295.60 C108.88,293.92 111.27,292.82 113.50,291.70 C115.73,290.58 117.82,289.77 120.20,288.90 C122.58,288.03 124.83,287.27 127.80,286.50 C130.77,285.73 133.23,285.07 138.00,284.30 C142.77,283.53 149.40,282.55 156.40,281.90 C163.40,281.25 173.08,280.82 180.00,280.40 C186.92,279.98 190.78,279.82 197.90,279.40 C205.02,278.98 216.75,278.33 222.70,277.90 C228.65,277.47 230.72,277.20 233.60,276.80 C236.48,276.40 237.27,276.05 240.00,275.50 C242.73,274.95 246.67,274.33 250.00,273.50 C253.33,272.67 257.00,271.58 260.00,270.50 C263.00,269.42 265.67,268.25 268.00,267.00 C270.33,265.75 272.33,264.50 274.00,263.00 C275.67,261.50 276.67,259.83 278.00,258.00 C279.33,256.17 280.83,253.58 282.00,252.00 C283.17,250.42 283.97,249.42 285.00,248.50 C286.03,247.58 287.67,246.83 288.20,246.50" fill="none" stroke="#10c010" stroke-width="2.7" stroke-linecap="round" stroke-linejoin="round" stroke-dasharray="6.3 4.8" clip-path="url(#cpb)"/>
<path d="M310.20,156.00 C310.23,160.83 310.30,177.10 310.40,185.00 C310.50,192.90 310.47,199.97 310.80,203.40 C311.13,206.83 310.87,205.17 312.40,205.60 C313.93,206.03 315.40,205.90 320.00,206.00 C324.60,206.10 330.00,206.03 340.00,206.20 C350.00,206.37 362.50,206.82 380.00,207.00 C397.50,207.18 420.05,207.18 445.00,207.30 C469.95,207.42 515.58,207.63 529.70,207.70" fill="none" stroke="#000" stroke-width="2.2" stroke-linecap="round" stroke-linejoin="round" clip-path="url(#cpc)"/>
<path d="M310.20,200.00 C310.30,197.50 310.53,188.47 310.80,185.00 C311.07,181.53 311.02,181.57 311.80,179.20 C312.58,176.83 314.00,173.25 315.50,170.80 C317.00,168.35 319.03,166.43 320.80,164.50 C322.57,162.57 324.53,160.75 326.10,159.20 C327.67,157.65 328.17,157.10 330.20,155.20 C332.23,153.30 335.62,150.17 338.30,147.80 C340.98,145.43 344.25,142.97 346.30,141.00 C348.35,139.03 348.97,138.02 350.60,136.00 C352.23,133.98 354.27,131.12 356.10,128.90 C357.93,126.68 359.62,124.88 361.60,122.70 C363.58,120.52 365.97,117.92 368.00,115.80 C370.03,113.68 372.07,111.90 373.80,110.00 C375.53,108.10 376.88,106.22 378.40,104.40 C379.92,102.58 381.38,100.75 382.90,99.10 C384.42,97.45 385.97,96.03 387.50,94.50 C389.03,92.97 390.57,91.30 392.10,89.90 C393.63,88.50 395.38,87.18 396.70,86.10 C398.02,85.02 398.45,84.50 400.00,83.40 C401.55,82.30 403.87,80.60 406.00,79.50 C408.13,78.40 410.47,77.67 412.80,76.80 C415.13,75.93 416.90,74.83 420.00,74.30 C423.10,73.77 427.62,73.52 431.40,73.60 C435.18,73.68 438.92,74.30 442.70,74.80 C446.48,75.30 450.30,76.00 454.10,76.60 C457.90,77.20 462.47,78.02 465.50,78.40 C468.53,78.78 469.28,79.20 472.30,78.90 C475.32,78.60 479.82,77.48 483.60,76.60 C487.38,75.72 491.20,74.73 495.00,73.60 C498.80,72.47 502.62,71.38 506.40,69.80 C510.18,68.22 514.48,66.18 517.70,64.10 C520.92,62.02 523.80,59.20 525.70,57.30 C527.60,55.40 528.53,53.47 529.10,52.70" fill="none" stroke="#000" stroke-width="2.2" stroke-linecap="round" stroke-linejoin="round" clip-path="url(#cpc)"/>
<path d="M309.80,53.30 C309.92,56.92 310.27,68.05 310.50,75.00 C310.73,81.95 310.93,88.33 311.20,95.00 C311.47,101.67 311.82,109.17 312.10,115.00 C312.38,120.83 312.63,124.17 312.90,130.00 C313.17,135.83 313.37,144.17 313.70,150.00 C314.03,155.83 314.48,160.33 314.90,165.00 C315.32,169.67 315.78,174.50 316.20,178.00 C316.62,181.50 317.00,183.87 317.40,186.00 C317.80,188.13 317.87,189.27 318.60,190.80 C319.33,192.33 320.55,194.12 321.80,195.20 C323.05,196.28 323.90,196.77 326.10,197.30 C328.30,197.83 326.02,197.73 335.00,198.40 C343.98,199.07 361.67,200.70 380.00,201.30 C398.33,201.90 420.05,201.57 445.00,202.00 C469.95,202.43 515.58,203.58 529.70,203.90" fill="none" stroke="#f00" stroke-width="3.0" stroke-linecap="round" stroke-linejoin="round" stroke-dasharray="0 4.2" clip-path="url(#cpc)"/>
<path d="M309.80,202.00 C309.92,199.17 310.07,189.50 310.50,185.00 C310.93,180.50 311.68,177.83 312.40,175.00 C313.12,172.17 313.93,170.03 314.80,168.00 C315.67,165.97 316.32,165.05 317.60,162.80 C318.88,160.55 320.78,157.47 322.50,154.50 C324.22,151.53 326.08,148.23 327.90,145.00 C329.72,141.77 331.57,137.93 333.40,135.10 C335.23,132.27 337.07,130.18 338.90,128.00 C340.73,125.82 342.55,123.83 344.40,122.00 C346.25,120.17 348.17,118.55 350.00,117.00 C351.83,115.45 353.73,114.00 355.40,112.70 C357.07,111.40 358.72,110.07 360.00,109.20 C361.28,108.33 361.70,108.42 363.10,107.50 C364.50,106.58 366.62,104.85 368.40,103.70 C370.18,102.55 372.02,101.63 373.80,100.60 C375.58,99.57 377.32,98.52 379.10,97.50 C380.88,96.48 382.72,95.38 384.50,94.50 C386.28,93.62 388.02,92.97 389.80,92.20 C391.58,91.43 393.67,90.53 395.20,89.90 C396.73,89.27 397.17,89.37 399.00,88.40 C400.83,87.43 403.65,85.38 406.20,84.10 C408.75,82.82 412.00,81.60 414.30,80.70 C416.60,79.80 416.87,79.72 420.00,78.70 C423.13,77.68 429.32,75.50 433.10,74.60 C436.88,73.70 439.73,73.77 442.70,73.30 C445.67,72.83 448.47,72.58 450.90,71.80 C453.33,71.02 455.18,69.55 457.30,68.60 C459.42,67.65 461.48,66.83 463.60,66.10 C465.72,65.37 467.80,64.78 470.00,64.20 C472.20,63.62 473.40,63.08 476.80,62.60 C480.20,62.12 486.00,61.75 490.40,61.30 C494.80,60.85 498.95,60.45 503.20,59.90 C507.45,59.35 512.30,58.68 515.90,58.00 C519.50,57.32 522.47,56.73 524.80,55.80 C527.13,54.87 529.05,52.97 529.90,52.40" fill="none" stroke="#f00" stroke-width="3.0" stroke-linecap="round" stroke-linejoin="round" stroke-dasharray="0 4.2" clip-path="url(#cpc)"/>
<path d="M309.80,55.00 C309.93,58.33 310.35,68.33 310.60,75.00 C310.85,81.67 311.03,88.33 311.30,95.00 C311.57,101.67 311.92,109.17 312.20,115.00 C312.48,120.83 312.73,124.17 313.00,130.00 C313.27,135.83 313.47,144.17 313.80,150.00 C314.13,155.83 314.58,160.33 315.00,165.00 C315.42,169.67 315.88,174.50 316.30,178.00 C316.72,181.50 317.10,183.87 317.50,186.00 C317.90,188.13 317.98,189.30 318.70,190.80 C319.42,192.30 320.57,193.95 321.80,195.00 C323.03,196.05 323.90,196.57 326.10,197.10 C328.30,197.63 326.02,197.50 335.00,198.20 C343.98,198.90 361.67,200.67 380.00,201.30 C398.33,201.93 420.05,201.57 445.00,202.00 C469.95,202.43 515.58,203.58 529.70,203.90" fill="none" stroke="#00f" stroke-width="2.3" stroke-linecap="round" stroke-linejoin="round" stroke-dasharray="2.9 3.9" clip-path="url(#cpc)"/>
<path d="M309.80,202.00 C309.92,198.85 310.07,187.85 310.50,183.10 C310.93,178.35 311.77,176.35 312.40,173.50 C313.03,170.65 313.62,168.17 314.30,166.00 C314.98,163.83 315.18,162.95 316.50,160.50 C317.82,158.05 320.30,154.30 322.20,151.30 C324.10,148.30 326.03,145.43 327.90,142.50 C329.77,139.57 331.57,136.42 333.40,133.70 C335.23,130.98 337.07,128.38 338.90,126.20 C340.73,124.02 342.57,122.33 344.40,120.60 C346.23,118.87 348.07,117.28 349.90,115.80 C351.73,114.32 353.58,113.08 355.40,111.70 C357.22,110.32 359.02,108.97 360.80,107.50 C362.58,106.03 364.32,104.30 366.10,102.90 C367.88,101.50 369.72,100.38 371.50,99.10 C373.28,97.82 375.02,96.48 376.80,95.20 C378.58,93.92 380.42,92.67 382.20,91.40 C383.98,90.13 385.72,88.87 387.50,87.60 C389.28,86.33 391.12,84.95 392.90,83.80 C394.68,82.65 395.98,82.08 398.20,80.70 C400.42,79.32 403.52,76.90 406.20,75.50 C408.88,74.10 412.00,73.07 414.30,72.30 C416.60,71.53 415.27,71.97 420.00,70.90 C424.73,69.83 435.12,67.32 442.70,65.90 C450.28,64.48 459.67,63.28 465.50,62.40 C471.33,61.52 473.55,61.10 477.70,60.60 C481.85,60.10 486.15,59.90 490.40,59.40 C494.65,58.90 498.95,58.27 503.20,57.60 C507.45,56.93 511.58,56.53 515.90,55.40 C520.22,54.27 526.90,51.57 529.10,50.80" fill="none" stroke="#00f" stroke-width="2.3" stroke-linecap="round" stroke-linejoin="round" stroke-dasharray="2.9 3.9" clip-path="url(#cpc)"/>
<path d="M309.80,56.00 C309.93,59.17 310.35,68.50 310.60,75.00 C310.85,81.50 311.03,88.33 311.30,95.00 C311.57,101.67 311.92,109.17 312.20,115.00 C312.48,120.83 312.73,124.17 313.00,130.00 C313.27,135.83 313.47,144.08 313.80,150.00 C314.13,155.92 314.62,161.15 315.00,165.50 C315.38,169.85 315.75,172.93 316.10,176.10 C316.45,179.27 316.75,182.43 317.10,184.50 C317.45,186.57 317.80,187.17 318.20,188.50 C318.60,189.83 318.90,191.17 319.50,192.50 C320.10,193.83 320.70,195.45 321.80,196.50 C322.90,197.55 323.90,198.25 326.10,198.80 C328.30,199.35 331.38,199.52 335.00,199.80 C338.62,200.08 340.30,200.07 347.80,200.50 C355.30,200.93 363.80,201.82 380.00,202.40 C396.20,202.98 420.05,203.48 445.00,204.00 C469.95,204.52 515.58,205.25 529.70,205.50" fill="none" stroke="#808000" stroke-width="2.7" stroke-linecap="round" stroke-linejoin="round" stroke-dasharray="4.6 4.4" clip-path="url(#cpc)"/>
<path d="M309.20,205.60 C309.20,203.43 309.02,196.90 309.20,192.60 C309.38,188.30 309.77,183.17 310.30,179.80 C310.83,176.43 311.57,175.02 312.40,172.40 C313.23,169.78 314.05,167.82 315.30,164.10 C316.55,160.38 318.37,153.67 319.90,150.10 C321.43,146.53 323.07,144.95 324.50,142.70 C325.93,140.45 327.13,138.57 328.50,136.60 C329.87,134.63 331.20,133.00 332.70,130.90 C334.20,128.80 335.78,126.07 337.50,124.00 C339.22,121.93 341.17,120.22 343.00,118.50 C344.83,116.78 346.67,115.30 348.50,113.70 C350.33,112.10 351.95,110.73 354.00,108.90 C356.05,107.07 358.78,104.37 360.80,102.70 C362.82,101.03 364.32,100.17 366.10,98.90 C367.88,97.63 369.72,96.63 371.50,95.10 C373.28,93.57 375.02,91.48 376.80,89.70 C378.58,87.92 380.42,86.02 382.20,84.40 C383.98,82.78 385.85,81.37 387.50,80.00 C389.15,78.63 390.43,77.35 392.10,76.20 C393.77,75.05 395.68,74.03 397.50,73.10 C399.32,72.17 401.10,71.35 403.00,70.60 C404.90,69.85 406.35,69.20 408.90,68.60 C411.45,68.00 416.45,67.30 418.30,67.00 C420.15,66.70 415.93,67.40 420.00,66.80 C424.07,66.20 435.12,64.37 442.70,63.40 C450.28,62.43 459.67,61.62 465.50,61.00 C471.33,60.38 473.55,60.22 477.70,59.70 C481.85,59.18 486.15,58.42 490.40,57.90 C494.65,57.38 498.95,57.23 503.20,56.60 C507.45,55.97 511.58,55.20 515.90,54.10 C520.22,53.00 526.90,50.68 529.10,50.00" fill="none" stroke="#808000" stroke-width="2.7" stroke-linecap="round" stroke-linejoin="round" stroke-dasharray="4.6 4.4" clip-path="url(#cpc)"/>
<path d="M309.80,57.00 C309.93,60.00 310.35,68.67 310.60,75.00 C310.85,81.33 311.03,88.33 311.30,95.00 C311.57,101.67 311.92,109.17 312.20,115.00 C312.48,120.83 312.73,124.17 313.00,130.00 C313.27,135.83 313.47,144.08 313.80,150.00 C314.13,155.92 314.62,161.15 315.00,165.50 C315.38,169.85 315.75,172.93 316.10,176.10 C316.45,179.27 316.75,182.43 317.10,184.50 C317.45,186.57 317.80,187.08 318.20,188.50 C318.60,189.92 318.90,191.57 319.50,193.00 C320.10,194.43 320.70,195.98 321.80,197.10 C322.90,198.22 323.90,199.08 326.10,199.70 C328.30,200.32 331.38,200.53 335.00,200.80 C338.62,201.07 340.30,200.90 347.80,201.30 C355.30,201.70 363.80,202.52 380.00,203.20 C396.20,203.88 420.05,204.82 445.00,205.40 C469.95,205.98 515.58,206.48 529.70,206.70" fill="none" stroke="#10c010" stroke-width="2.7" stroke-linecap="round" stroke-linejoin="round" stroke-dasharray="6.3 4.8" clip-path="url(#cpc)"/>
<path d="M309.20,205.00 C309.20,202.83 309.02,196.30 309.20,192.00 C309.38,187.70 309.77,182.57 310.30,179.20 C310.83,175.83 311.57,174.42 312.40,171.80 C313.23,169.18 314.05,167.22 315.30,163.50 C316.55,159.78 318.37,153.07 319.90,149.50 C321.43,145.93 323.07,144.35 324.50,142.10 C325.93,139.85 327.13,137.97 328.50,136.00 C329.87,134.03 331.20,132.40 332.70,130.30 C334.20,128.20 335.78,125.47 337.50,123.40 C339.22,121.33 341.17,119.62 343.00,117.90 C344.83,116.18 346.67,114.70 348.50,113.10 C350.33,111.50 351.95,110.13 354.00,108.30 C356.05,106.47 358.78,103.77 360.80,102.10 C362.82,100.43 364.32,99.57 366.10,98.30 C367.88,97.03 369.72,96.03 371.50,94.50 C373.28,92.97 375.02,90.88 376.80,89.10 C378.58,87.32 380.42,85.58 382.20,83.80 C383.98,82.02 385.85,79.93 387.50,78.40 C389.15,76.87 390.43,75.75 392.10,74.60 C393.77,73.45 395.68,72.43 397.50,71.50 C399.32,70.57 401.10,69.75 403.00,69.00 C404.90,68.25 406.35,67.60 408.90,67.00 C411.45,66.40 416.45,65.70 418.30,65.40 C420.15,65.10 415.93,65.80 420.00,65.20 C424.07,64.60 435.12,62.77 442.70,61.80 C450.28,60.83 459.67,60.02 465.50,59.40 C471.33,58.78 473.55,58.62 477.70,58.10 C481.85,57.58 486.15,56.82 490.40,56.30 C494.65,55.78 498.95,55.63 503.20,55.00 C507.45,54.37 511.58,53.60 515.90,52.50 C520.22,51.40 526.90,49.08 529.10,48.40" fill="none" stroke="#10c010" stroke-width="2.7" stroke-linecap="round" stroke-linejoin="round" stroke-dasharray="6.3 4.8" clip-path="url(#cpc)"/>
<path d="M310.70,385.00 C310.72,390.83 310.75,411.50 310.80,420.00 C310.85,428.50 310.80,432.87 311.00,436.00 C311.20,439.13 311.33,438.27 312.00,438.80 C312.67,439.33 307.00,438.98 315.00,439.20 C323.00,439.42 341.28,439.80 360.00,440.10 C378.72,440.40 399.38,440.97 427.30,441.00 C455.22,441.03 510.80,440.42 527.50,440.30" fill="none" stroke="#000" stroke-width="2.2" stroke-linecap="round" stroke-linejoin="round" clip-path="url(#cpd)"/>
<path d="M310.80,437.00 C310.88,432.50 311.02,416.50 311.30,410.00 C311.58,403.50 311.77,401.00 312.50,398.00 C313.23,395.00 313.90,394.78 315.70,392.00 C317.50,389.22 320.75,384.88 323.30,381.30 C325.85,377.72 328.45,374.00 331.00,370.50 C333.55,367.00 336.25,363.63 338.60,360.30 C340.95,356.97 342.90,353.77 345.10,350.50 C347.30,347.23 349.57,343.88 351.80,340.70 C354.03,337.52 356.27,334.30 358.50,331.40 C360.73,328.50 362.97,325.98 365.20,323.30 C367.43,320.62 369.68,317.55 371.90,315.30 C374.12,313.05 376.28,311.38 378.50,309.80 C380.72,308.22 383.28,306.85 385.20,305.80 C387.12,304.75 388.37,304.37 390.00,303.50 C391.63,302.63 392.88,301.62 395.00,300.60 C397.12,299.58 400.37,298.08 402.70,297.40 C405.03,296.72 406.88,296.65 409.00,296.50 C411.12,296.35 413.40,296.33 415.40,296.50 C417.40,296.67 418.87,297.07 421.00,297.50 C423.13,297.93 424.88,298.30 428.20,299.10 C431.52,299.90 436.67,301.62 440.90,302.30 C445.13,302.98 449.50,303.38 453.60,303.20 C457.70,303.02 461.63,302.03 465.50,301.20 C469.37,300.37 473.02,299.18 476.80,298.20 C480.58,297.22 484.42,296.32 488.20,295.30 C491.98,294.28 495.72,293.40 499.50,292.10 C503.28,290.80 507.48,289.32 510.90,287.50 C514.32,285.68 517.35,283.38 520.00,281.20 C522.65,279.02 525.28,275.92 526.80,274.40 C528.32,272.88 528.72,272.48 529.10,272.10" fill="none" stroke="#000" stroke-width="2.2" stroke-linecap="round" stroke-linejoin="round" clip-path="url(#cpd)"/>
<path d="M309.90,268.00 C310.00,273.33 310.23,288.00 310.50,300.00 C310.77,312.00 311.08,328.33 311.50,340.00 C311.92,351.67 312.43,362.50 313.00,370.00 C313.57,377.50 314.38,380.00 314.90,385.00 C315.42,390.00 315.72,395.58 316.10,400.00 C316.48,404.42 316.73,408.07 317.20,411.50 C317.67,414.93 318.13,418.12 318.90,420.60 C319.67,423.08 320.37,424.87 321.80,426.40 C323.23,427.93 324.45,428.82 327.50,429.80 C330.55,430.78 334.68,431.68 340.10,432.30 C345.52,432.92 345.47,432.88 360.00,433.50 C374.53,434.12 404.88,435.30 427.30,436.00 C449.72,436.70 477.80,437.25 494.50,437.70 C511.20,438.15 522.00,438.53 527.50,438.70" fill="none" stroke="#f00" stroke-width="3.0" stroke-linecap="round" stroke-linejoin="round" stroke-dasharray="0 4.2" clip-path="url(#cpd)"/>
<path d="M310.80,437.00 C310.88,432.50 311.02,416.50 311.30,410.00 C311.58,403.50 311.77,401.00 312.50,398.00 C313.23,395.00 313.90,394.78 315.70,392.00 C317.50,389.22 320.75,384.88 323.30,381.30 C325.85,377.72 328.45,374.00 331.00,370.50 C333.55,367.00 336.25,363.63 338.60,360.30 C340.95,356.97 342.90,353.77 345.10,350.50 C347.30,347.23 349.57,343.88 351.80,340.70 C354.03,337.52 356.27,334.30 358.50,331.40 C360.73,328.50 362.97,325.87 365.20,323.30 C367.43,320.73 369.68,318.05 371.90,316.00 C374.12,313.95 376.28,312.33 378.50,311.00 C380.72,309.67 383.28,308.82 385.20,308.00 C387.12,307.18 388.37,306.80 390.00,306.10 C391.63,305.40 392.88,304.65 395.00,303.80 C397.12,302.95 400.20,301.80 402.70,301.00 C405.20,300.20 407.88,299.53 410.00,299.00 C412.12,298.47 412.37,298.03 415.40,297.80 C418.43,297.57 423.95,297.82 428.20,297.60 C432.45,297.38 436.67,297.10 440.90,296.50 C445.13,295.90 449.50,295.12 453.60,294.00 C457.70,292.88 461.63,291.10 465.50,289.80 C469.37,288.50 473.02,287.07 476.80,286.20 C480.58,285.33 484.42,285.13 488.20,284.60 C491.98,284.07 495.72,283.65 499.50,283.00 C503.28,282.35 507.10,281.68 510.90,280.70 C514.70,279.72 519.27,278.47 522.30,277.10 C525.33,275.73 527.97,273.27 529.10,272.50" fill="none" stroke="#f00" stroke-width="3.0" stroke-linecap="round" stroke-linejoin="round" stroke-dasharray="0 4.2" clip-path="url(#cpd)"/>
<path d="M309.90,268.00 C310.00,273.33 310.23,288.00 310.50,300.00 C310.77,312.00 311.08,328.33 311.50,340.00 C311.92,351.67 312.43,362.50 313.00,370.00 C313.57,377.50 314.38,380.00 314.90,385.00 C315.42,390.00 315.72,395.58 316.10,400.00 C316.48,404.42 316.73,408.07 317.20,411.50 C317.67,414.93 318.13,418.12 318.90,420.60 C319.67,423.08 320.37,424.87 321.80,426.40 C323.23,427.93 324.45,428.95 327.50,429.80 C330.55,430.65 334.68,431.02 340.10,431.50 C345.52,431.98 345.47,432.08 360.00,432.70 C374.53,433.32 404.88,434.50 427.30,435.20 C449.72,435.90 477.80,436.45 494.50,436.90 C511.20,437.35 522.00,437.73 527.50,437.90" fill="none" stroke="#00f" stroke-width="2.3" stroke-linecap="round" stroke-linejoin="round" stroke-dasharray="2.9 3.9" clip-path="url(#cpd)"/>
<path d="M310.50,437.00 C310.75,434.17 311.42,425.33 312.00,420.00 C312.58,414.67 313.13,409.17 314.00,405.00 C314.87,400.83 315.65,398.70 317.20,395.00 C318.75,391.30 321.27,387.13 323.30,382.80 C325.33,378.47 327.78,373.30 329.40,369.00 C331.02,364.70 331.95,360.17 333.00,357.00 C334.05,353.83 334.80,352.80 335.70,350.00 C336.60,347.20 337.28,343.62 338.40,340.20 C339.52,336.78 340.83,332.62 342.40,329.50 C343.97,326.38 345.78,323.73 347.80,321.50 C349.82,319.27 352.28,317.43 354.50,316.10 C356.72,314.77 358.88,314.50 361.10,313.50 C363.32,312.50 365.57,311.33 367.80,310.10 C370.03,308.87 372.27,307.55 374.50,306.10 C376.73,304.65 378.97,302.97 381.20,301.40 C383.43,299.83 385.60,298.15 387.90,296.70 C390.20,295.25 392.75,293.77 395.00,292.70 C397.25,291.63 398.43,291.20 401.40,290.30 C404.37,289.40 409.70,288.07 412.80,287.30 C415.90,286.53 415.02,286.45 420.00,285.70 C424.98,284.95 435.12,283.63 442.70,282.80 C450.28,281.97 457.92,281.35 465.50,280.70 C473.08,280.05 480.63,279.65 488.20,278.90 C495.77,278.15 504.08,277.27 510.90,276.20 C517.72,275.13 526.07,273.12 529.10,272.50" fill="none" stroke="#00f" stroke-width="2.3" stroke-linecap="round" stroke-linejoin="round" stroke-dasharray="2.9 3.9" clip-path="url(#cpd)"/>
<path d="M309.90,268.00 C310.00,273.33 310.23,288.00 310.50,300.00 C310.77,312.00 311.08,328.33 311.50,340.00 C311.92,351.67 312.43,362.50 313.00,370.00 C313.57,377.50 314.38,380.00 314.90,385.00 C315.42,390.00 315.72,395.58 316.10,400.00 C316.48,404.42 316.73,408.07 317.20,411.50 C317.67,414.93 318.13,418.12 318.90,420.60 C319.67,423.08 320.37,424.87 321.80,426.40 C323.23,427.93 324.45,429.00 327.50,429.80 C330.55,430.60 334.68,430.77 340.10,431.20 C345.52,431.63 345.47,431.78 360.00,432.40 C374.53,433.02 404.88,434.20 427.30,434.90 C449.72,435.60 477.80,436.15 494.50,436.60 C511.20,437.05 522.00,437.43 527.50,437.60" fill="none" stroke="#808000" stroke-width="2.7" stroke-linecap="round" stroke-linejoin="round" stroke-dasharray="4.6 4.4" clip-path="url(#cpd)"/>
<path d="M310.50,437.00 C310.75,434.17 311.48,426.17 312.00,420.00 C312.52,413.83 313.12,405.70 313.60,400.00 C314.08,394.30 314.43,390.97 314.90,385.80 C315.37,380.63 315.77,373.58 316.40,369.00 C317.03,364.42 317.80,361.72 318.70,358.30 C319.60,354.88 320.75,351.28 321.80,348.50 C322.85,345.72 323.35,344.32 325.00,341.60 C326.65,338.88 329.47,335.33 331.70,332.20 C333.93,329.07 336.17,325.70 338.40,322.80 C340.63,319.90 342.87,317.25 345.10,314.80 C347.33,312.35 349.57,310.22 351.80,308.10 C354.03,305.98 356.27,303.88 358.50,302.10 C360.73,300.32 362.97,298.73 365.20,297.40 C367.43,296.07 369.68,295.10 371.90,294.10 C374.12,293.10 376.28,292.18 378.50,291.40 C380.72,290.62 382.45,290.07 385.20,289.40 C387.95,288.73 392.30,287.97 395.00,287.40 C397.70,286.83 398.05,286.57 401.40,286.00 C404.75,285.43 412.00,284.42 415.10,284.00 C418.20,283.58 415.40,283.97 420.00,283.50 C424.60,283.03 435.12,281.85 442.70,281.20 C450.28,280.55 457.92,280.17 465.50,279.60 C473.08,279.03 480.63,278.57 488.20,277.80 C495.77,277.03 504.08,275.95 510.90,275.00 C517.72,274.05 526.07,272.58 529.10,272.10" fill="none" stroke="#808000" stroke-width="2.7" stroke-linecap="round" stroke-linejoin="round" stroke-dasharray="4.6 4.4" clip-path="url(#cpd)"/>
<path d="M309.90,268.00 C310.00,276.67 310.23,303.00 310.50,320.00 C310.77,337.00 311.20,357.50 311.50,370.00 C311.80,382.50 312.02,388.08 312.30,395.00 C312.58,401.92 312.77,406.85 313.20,411.50 C313.63,416.15 314.05,419.27 314.90,422.90 C315.75,426.53 316.97,430.82 318.30,433.30 C319.63,435.78 320.98,436.67 322.90,437.80 C324.82,438.93 326.93,439.37 329.80,440.10 C332.67,440.83 336.47,441.67 340.10,442.20 C343.73,442.73 348.28,442.90 351.60,443.30 C354.92,443.70 353.00,443.87 360.00,444.60 C367.00,445.33 382.38,446.73 393.60,447.70 C404.82,448.67 416.08,449.50 427.30,450.40 C438.52,451.30 449.70,452.27 460.90,453.10 C472.10,453.93 483.40,454.62 494.50,455.40 C505.60,456.18 522.00,457.40 527.50,457.80" fill="none" stroke="#10c010" stroke-width="2.7" stroke-linecap="round" stroke-linejoin="round" stroke-dasharray="6.3 4.8" clip-path="url(#cpd)"/>
<path d="M310.00,440.00 C310.08,433.33 310.25,413.33 310.50,400.00 C310.75,386.67 311.17,369.17 311.50,360.00 C311.83,350.83 312.18,348.60 312.50,345.00 C312.82,341.40 312.62,341.03 313.40,338.40 C314.18,335.77 315.93,331.68 317.20,329.20 C318.47,326.72 319.70,325.00 321.00,323.50 C322.30,322.00 323.75,321.70 325.00,320.20 C326.25,318.70 327.38,316.28 328.50,314.50 C329.62,312.72 330.62,311.17 331.70,309.50 C332.78,307.83 333.88,306.07 335.00,304.50 C336.12,302.93 337.32,301.52 338.40,300.10 C339.48,298.68 340.38,297.35 341.50,296.00 C342.62,294.65 343.62,293.55 345.10,292.00 C346.58,290.45 348.55,288.53 350.40,286.70 C352.25,284.87 354.28,282.62 356.20,281.00 C358.12,279.38 359.93,278.25 361.90,277.00 C363.87,275.75 364.87,274.78 368.00,273.50 C371.13,272.22 375.90,270.87 380.70,269.30 C385.50,267.73 391.82,265.62 396.80,264.10 C401.78,262.58 406.73,261.13 410.60,260.20 C414.47,259.27 414.65,259.93 420.00,258.50 C425.35,257.07 435.12,253.43 442.70,251.60 C450.28,249.77 457.92,248.52 465.50,247.50 C473.08,246.48 480.63,246.02 488.20,245.50 C495.77,244.98 504.08,244.70 510.90,244.40 C517.72,244.10 526.07,243.82 529.10,243.70" fill="none" stroke="#10c010" stroke-width="2.7" stroke-linecap="round" stroke-linejoin="round" stroke-dasharray="6.3 4.8" clip-path="url(#cpd)"/>
<text x="52.9" y="42.0" font-size="18" text-anchor="end" >4.5</text>
<text x="52.9" y="90.2" font-size="18" text-anchor="end" >4.0</text>
<text x="52.9" y="138.4" font-size="18" text-anchor="end" >3.5</text>
<text x="52.9" y="186.6" font-size="18" text-anchor="end" >3.0</text>
<text x="52.9" y="234.8" font-size="18" text-anchor="end" >2.5</text>
<text x="52.9" y="273.6" font-size="18" text-anchor="end" >4.5</text>
<text x="52.9" y="321.8" font-size="18" text-anchor="end" >4.0</text>
<text x="52.9" y="370.0" font-size="18" text-anchor="end" >3.5</text>
<text x="52.9" y="418.2" font-size="18" text-anchor="end" >3.0</text>
<text x="52.9" y="466.4" font-size="18" text-anchor="end" >2.5</text>
<text x="62.7" y="494.8" font-size="18" text-anchor="middle" >0</text>
<text x="100.06" y="494.8" font-size="18" text-anchor="middle" >50</text>
<text x="137.43" y="494.8" font-size="18" text-anchor="middle" >100</text>
<text x="174.8" y="494.8" font-size="18" text-anchor="middle" >150</text>
<text x="212.16" y="494.8" font-size="18" text-anchor="middle" >200</text>
<text x="249.52" y="494.8" font-size="18" text-anchor="middle" >250</text>
<text x="286.89" y="494.8" font-size="18" text-anchor="middle" >300</text>
<text x="308.9" y="494.8" font-size="18" text-anchor="middle" >0</text>
<text x="353.02" y="494.8" font-size="18" text-anchor="middle" >200</text>
<text x="397.14" y="494.8" font-size="18" text-anchor="middle" >400</text>
<text x="441.26" y="494.8" font-size="18" text-anchor="middle" >600</text>
<text x="485.38" y="494.8" font-size="18" text-anchor="middle" >800</text>
<text x="529.5" y="494.8" font-size="18" text-anchor="middle" >1000</text>
<text x="72.2" y="519" font-size="18" transform="translate(72.2,0) scale(1.035,1) translate(-72.2,0)">specific</text>
<text x="139.8" y="519" font-size="18" text-anchor="start" >capacity</text>
<text x="212.7" y="519" font-size="18" text-anchor="start" >(mAh</text>
<text x="260.2" y="519" font-size="18" text-anchor="start" >g</text>
<text x="270.2" y="515.4" font-size="18" text-anchor="start" >-1</text>
<text x="287.5" y="519" font-size="18" text-anchor="start" >)</text>
<text x="318.8" y="519" font-size="18" transform="translate(318.8,0) scale(1.035,1) translate(-318.8,0)">specific</text>
<text x="386.4" y="519" font-size="18" text-anchor="start" >capacity</text>
<text x="459.3" y="519" font-size="18" text-anchor="start" >(mAh</text>
<text x="506.8" y="519" font-size="18" text-anchor="start" >g</text>
<text x="516.8" y="515.4" font-size="18" text-anchor="start" >-1</text>
<text x="534.1" y="519" font-size="18" text-anchor="start" >)</text>
<text x="0" y="0" font-size="18" text-anchor="middle" transform="translate(14.6,122.6) rotate(-90) scale(1.025,1)">voltage (V)</text>
<text x="0" y="0" font-size="18" text-anchor="middle" transform="translate(14.6,354.1) rotate(-90) scale(1.025,1)">voltage (V)</text>
<text x="0" y="0" font-size="18" transform="translate(84.3,30.0) scale(1.07,1)">(a)</text>
<text x="0" y="0" font-size="18" transform="translate(77.5,265.3) scale(1.07,1)">(b)</text>
<text x="0" y="0" font-size="18" transform="translate(327.8,30.0) scale(1.07,1)">(c)</text>
<text x="0" y="0" font-size="18" transform="translate(320.6,265.3) scale(1.07,1)">(d)</text>
<text x="244.6" y="101.2" font-size="18" text-anchor="start" >1st</text>
<text x="244.0" y="121.3" font-size="18" text-anchor="start" >2nd</text>
<text x="244.0" y="141.8" font-size="18" text-anchor="start" >5th</text>
<text x="244.0" y="162.0" font-size="18" text-anchor="start" >10th</text>
<text x="244.0" y="183.2" font-size="18" text-anchor="start" >30th</text>
<line x1="192.4" y1="93.9" x2="223.8" y2="93.9" stroke="#000" stroke-width="2.2" stroke-linecap="round"/>
<line x1="192.4" y1="114.9" x2="223.8" y2="114.9" stroke="#f00" stroke-width="3.0" stroke-linecap="round" stroke-dasharray="0 4.2"/>
<line x1="192.4" y1="135.4" x2="223.8" y2="135.4" stroke="#00f" stroke-width="2.3" stroke-linecap="round" stroke-dasharray="2.9 3.9"/>
<line x1="192.4" y1="155.3" x2="223.8" y2="155.3" stroke="#808000" stroke-width="2.7" stroke-linecap="round" stroke-dasharray="4.6 4.4"/>
<line x1="192.4" y1="176.4" x2="223.8" y2="176.4" stroke="#10c010" stroke-width="2.7" stroke-linecap="round" stroke-dasharray="6.3 4.8"/>
</svg></body></html>
